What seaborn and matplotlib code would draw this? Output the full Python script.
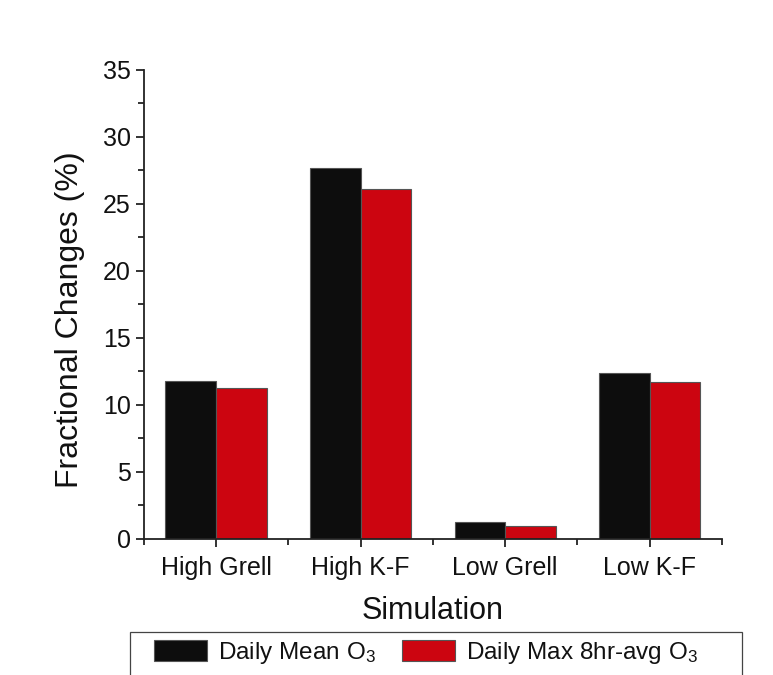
import pandas as pd
import seaborn as sns
import matplotlib
matplotlib.use('Agg')
import matplotlib.pyplot as plt
from matplotlib.ticker import MultipleLocator
from matplotlib.patches import Rectangle

sns.set_style('ticks')
plt.rcParams['font.family'] = ['Liberation Sans', 'DejaVu Sans']
plt.rcParams['mathtext.fontset'] = 'custom'
plt.rcParams['mathtext.rm'] = 'Liberation Sans'
plt.rcParams['mathtext.it'] = 'Liberation Sans'
plt.rcParams['text.color'] = '#111111'
plt.rcParams['axes.labelcolor'] = '#111111'
plt.rcParams['xtick.color'] = '#111111'
plt.rcParams['ytick.color'] = '#111111'

# данные
simulations = ['High Grell', 'High K-F', 'Low Grell', 'Low K-F']
daily_mean = [11.8, 27.65, 1.25, 12.4]
daily_max8 = [11.3, 26.1, 0.95, 11.7]
series_names = ['Daily Mean O$_3$', 'Daily Max 8hr-avg O$_3$']

df = pd.DataFrame({
    'Simulation': simulations * 2,
    'value': daily_mean + daily_max8,
    'series': [series_names[0]] * 4 + [series_names[1]] * 4,
})

fig = plt.figure(figsize=(7.73, 6.75), dpi=100)
ax = fig.add_axes([0.186, 0.2015, 0.748, 0.6948])

ax = sns.barplot(data=df, x='Simulation', y='value', hue='series',
                 palette=['#0d0d0d', '#cc0510'], saturation=1,
                 width=0.7, gap=0,
                 edgecolor='#555555', linewidth=0.8, ax=ax)

ax.set_xlim(-0.5, 3.5)
ax.set_ylim(0, 35)
ax.yaxis.set_major_locator(MultipleLocator(5))
ax.yaxis.set_minor_locator(MultipleLocator(2.5))
ax.xaxis.set_minor_locator(MultipleLocator(1, offset=0.5))
ax.tick_params(axis='both', which='major', length=6, width=1.2, labelsize=18)
ax.tick_params(axis='both', which='minor', length=4, width=1.2)
ax.tick_params(axis='x', pad=6)
for s in ['top', 'right']:
    ax.spines[s].set_visible(False)
for s in ['left', 'bottom']:
    ax.spines[s].set_linewidth(1.3)
    ax.spines[s].set_color('#222222')

ax.set_xlabel('Simulation', fontsize=22, labelpad=12)
ax.set_ylabel('Fractional Changes (%)', fontsize=23)
ax.yaxis.set_label_coords(-0.102, 0.467)

# легенда под графиком, рамка отдельным прямоугольником
handles, labels = ax.get_legend_handles_labels()
ax.get_legend().remove()
fig.patches.append(Rectangle((0.168, -0.05), 0.792, 0.1137,
                             transform=fig.transFigure, fill=False,
                             edgecolor='#444444', linewidth=0.9))
fig.legend(handles, labels, loc='upper left', ncol=2,
           bbox_to_anchor=(154 / 773, 0.052),
           fontsize=17.5, frameon=False,
           handlelength=2.2, handleheight=0.9, handletextpad=0.45,
           columnspacing=1.05, borderpad=0, borderaxespad=0)

fig.savefig('out.png', dpi=100)
